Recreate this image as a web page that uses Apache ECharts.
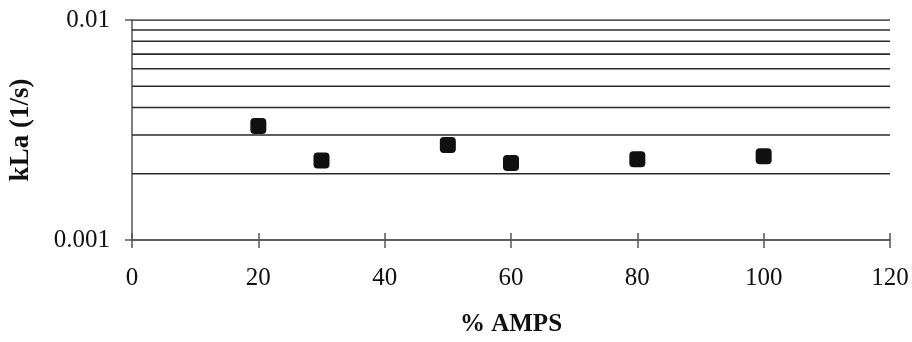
<!DOCTYPE html>
<html>
<head>
<meta charset="utf-8">
<script src="https://cdn.jsdelivr.net/npm/echarts@6/dist/echarts.min.js"></script>
<style>
html,body{margin:0;padding:0;background:#fff;}
#chart{width:912px;height:342px;}
</style>
</head>
<body>
<div id="chart"></div>
<script>
// Data
var ampsPercent = [20, 30, 50, 60, 80, 100];
var kLaValues = [0.0033, 0.0023, 0.0027, 0.00224, 0.00233, 0.0024];
var gridValues = [0.002, 0.003, 0.004, 0.005, 0.006, 0.007, 0.008, 0.009, 0.01];
var xTickLabels = ['0', '20', '40', '60', '80', '100', '120'];
var yTickLabels = {'0.001': '0.001', '0.01': '0.01'};
var xRange = [0, 120];

var points = ampsPercent.map(function (x, i) { return [x, kLaValues[i]]; });
var FONT = '"Liberation Serif", "DejaVu Serif", serif';

var gridSeries = gridValues.map(function (v) {
  return {
    type: 'line',
    xAxisIndex: 0,
    data: [[xRange[0], v], [xRange[1], v]],
    symbol: 'none',
    silent: true,
    lineStyle: {color: '#2a2a2a', width: 1.6, type: 'solid'},
    z: 1
  };
});

var chart = echarts.init(document.getElementById('chart'), null, {renderer: 'canvas'});
chart.setOption({
  animation: false,
  backgroundColor: '#ffffff',
  grid: {left: 131, right: 22, top: 20, bottom: 101, containLabel: false},
  xAxis: [{
    type: 'value', min: 0, max: 120, interval: 20,
    name: '% AMPS', nameLocation: 'middle', nameGap: 72,
    nameTextStyle: {fontFamily: FONT, fontSize: 25, fontWeight: 'bold', color: '#111'},
    axisLine: {show: true, lineStyle: {color: '#555', width: 1.5}},
    axisTick: {show: true, inside: false, length: 8, lineStyle: {color: '#555', width: 1.5}},
    axisLabel: {
      margin: 26, fontFamily: FONT, fontSize: 25, color: '#111',
      formatter: function (v) { return xTickLabels[Math.round(v / 20)]; }
    },
    splitLine: {show: false}
  }, {
    type: 'value', min: 0, max: 120, interval: 20, position: 'bottom',
    axisLine: {show: true, lineStyle: {color: '#555', width: 1.5}},
    axisTick: {show: true, inside: true, length: 7, lineStyle: {color: '#555', width: 1.5}},
    axisLabel: {show: false},
    splitLine: {show: false}
  }],
  yAxis: {
    type: 'log', logBase: 10, min: 0.001, max: 0.01,
    name: 'kLa (1/s)', nameLocation: 'middle', nameGap: 97,
    nameTextStyle: {fontFamily: FONT, fontSize: 27, fontWeight: 'bold', color: '#111'},
    axisLine: {show: true, lineStyle: {color: '#555', width: 1.5}},
    axisTick: {show: true, inside: false, length: 7, lineStyle: {color: '#555', width: 1.5}},
    axisLabel: {
      margin: 22, fontFamily: FONT, fontSize: 25, color: '#111',
      formatter: function (v) { return v < 0.005 ? yTickLabels['0.001'] : yTickLabels['0.01']; }
    },
    splitLine: {show: false}
  },
  series: gridSeries.concat([{
    type: 'scatter',
    xAxisIndex: 0,
    data: points,
    symbol: 'roundRect',
    symbolSize: 16,
    itemStyle: {color: '#111111', opacity: 1},
    z: 5
  }])
});
</script>
</body>
</html>
